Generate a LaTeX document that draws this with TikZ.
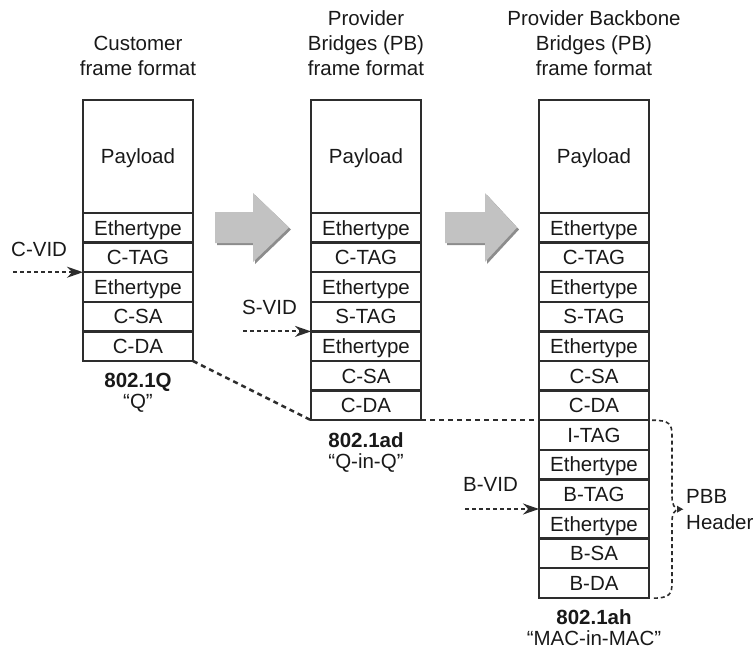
\documentclass[tikz,border=0pt]{standalone}
\usepackage{fontspec}
\setmainfont{Liberation Sans}
\usepackage{tikz}
\usetikzlibrary{arrows.meta, positioning}
\definecolor{myframe}{RGB}{45,45,45}
\definecolor{mytext}{RGB}{25,25,25}
\definecolor{mygray}{RGB}{194,194,194}
\definecolor{myshadow}{RGB}{140,140,140}
\tikzset{
  field/.style={rectangle, draw=myframe, line width=2.5pt,
    minimum width=110pt, minimum height=29.6pt, inner sep=0pt, outer sep=0pt,
    text height=14.7pt, text depth=0pt, text=mytext,
    font=\fontsize{20.5}{24}\selectfont},
  payload/.style={field, minimum height=113pt},
  title/.style={align=center, inner sep=0pt, text=mytext,
    font=\fontsize{20.5}{25}\selectfont},
  stdlabel/.style={align=center, inner sep=0pt, text=mytext,
    font=\fontsize{20.5}{21}\selectfont},
  vid/.style={inner sep=0pt, text=mytext, font=\fontsize{20.5}{26}\selectfont},
  vidarrow/.style={-{Stealth[length=16pt, width=11pt]}, line width=2pt,
    dash pattern=on 4pt off 3pt, color=myframe},
  link/.style={line width=2.5pt, dash pattern=on 5pt off 4pt, color=myframe},
  pbbbrace/.style={line width=1.6pt, dash pattern=on 4pt off 3pt, color=myframe}
}

\begin{document}
\begin{tikzpicture}[x=1pt, y=-1pt]
  \useasboundingbox (0,0) rectangle (753,649);
  % Customer frame (802.1Q)
  \node[payload, anchor=north] (q-pay) at (138,100) {Payload};
  \node[field, below=0pt of q-pay] (q-et1) {Ethertype};
  \node[field, below=0pt of q-et1] (q-ctag) {C-TAG};
  \node[field, below=0pt of q-ctag] (q-et2) {Ethertype};
  \node[field, below=0pt of q-et2] (q-csa) {C-SA};
  \node[field, below=0pt of q-csa] (q-cda) {C-DA};
  \node[title, above=24pt of q-pay] (q-title) {Customer\\frame format};
  \node[stdlabel, below=12pt of q-cda] (q-std) {\textbf{802.1Q}\\“Q”};
  % Provider Bridges frame (802.1ad)
  \node[payload, anchor=north] (pb-pay) at (366,100) {Payload};
  \node[field, below=0pt of pb-pay] (pb-et1) {Ethertype};
  \node[field, below=0pt of pb-et1] (pb-ctag) {C-TAG};
  \node[field, below=0pt of pb-ctag] (pb-et2) {Ethertype};
  \node[field, below=0pt of pb-et2] (pb-stag) {S-TAG};
  \node[field, below=0pt of pb-stag] (pb-et3) {Ethertype};
  \node[field, below=0pt of pb-et3] (pb-csa) {C-SA};
  \node[field, below=0pt of pb-csa] (pb-cda) {C-DA};
  \node[title, above=24pt of pb-pay] (pb-title) {Provider\\Bridges (PB)\\frame format};
  \node[stdlabel, below=12pt of pb-cda] (pb-std) {\textbf{802.1ad}\\“Q-in-Q”};
  % Provider Backbone Bridges frame (802.1ah)
  \node[payload, anchor=north] (pbb-pay) at (594,100) {Payload};
  \node[field, below=0pt of pbb-pay] (pbb-et1) {Ethertype};
  \node[field, below=0pt of pbb-et1] (pbb-ctag) {C-TAG};
  \node[field, below=0pt of pbb-ctag] (pbb-et2) {Ethertype};
  \node[field, below=0pt of pbb-et2] (pbb-stag) {S-TAG};
  \node[field, below=0pt of pbb-stag] (pbb-et3) {Ethertype};
  \node[field, below=0pt of pbb-et3] (pbb-csa) {C-SA};
  \node[field, below=0pt of pbb-csa] (pbb-cda) {C-DA};
  \node[field, below=0pt of pbb-cda] (pbb-itag) {I-TAG};
  \node[field, below=0pt of pbb-itag] (pbb-et4) {Ethertype};
  \node[field, below=0pt of pbb-et4] (pbb-btag) {B-TAG};
  \node[field, below=0pt of pbb-btag] (pbb-et5) {Ethertype};
  \node[field, below=0pt of pbb-et5] (pbb-bsa) {B-SA};
  \node[field, below=0pt of pbb-bsa] (pbb-bda) {B-DA};
  \node[title, above=24pt of pbb-pay] (pbb-title) {Provider Backbone\\Bridges (PB)\\frame format};
  \node[stdlabel, below=12pt of pbb-bda] (pbb-std) {\textbf{802.1ah}\\“MAC-in-MAC”};
  % Gray block arrows
  \fill[myshadow] (217,214) -- (255,214) -- (255,195) -- (291,229.5) -- (255,264)
    -- (255,245) -- (217,245) -- cycle;
  \fill[mygray] (215,212) -- (253,212) -- (253,193) -- (289,227.5) -- (253,262)
    -- (253,243) -- (215,243) -- cycle;
  \fill[myshadow] (447,214) -- (487,214) -- (487,195) -- (519,229.5) -- (487,264)
    -- (487,245) -- (447,245) -- cycle;
  \fill[mygray] (445,212) -- (485,212) -- (485,193) -- (517,227.5) -- (485,262)
    -- (485,243) -- (445,243) -- cycle;
  % VID arrows
  \node[vid, anchor=west] (cvid) at (11,249) {C-VID};
  \coordinate (cvid-start) at (13,0);
  \draw[vidarrow] (cvid-start |- q-ctag.south west) -- (q-ctag.south west);
  \node[vid, anchor=west] (svid) at (242,307) {S-VID};
  \coordinate (svid-start) at (243,0);
  \draw[vidarrow] (svid-start |- pb-stag.south west) -- (pb-stag.south west);
  \node[vid, anchor=west] (bvid) at (463,484) {B-VID};
  \coordinate (bvid-start) at (465,0);
  \draw[vidarrow] (bvid-start |- pbb-btag.south west) -- (pbb-btag.south west);
  % Dashed links between frames
  \draw[link] (q-cda.south east) -- (pb-cda.south west);
  \draw[link] (pb-cda.south east) -- (pbb-cda.south west);
  % PBB header brace
  \draw[pbbbrace] ([xshift=3pt]pbb-itag.north east)
    .. controls +(18,0) and +(0,-12) .. ++(20,16) -- ++(0,60)
    .. controls +(0,8) and +(-6,0) .. ++(8,13) coordinate (btip)
    .. controls +(-6,0) and +(0,-8) .. ++(-8,13) -- ++(0,60)
    .. controls +(0,12) and +(18,0) .. ++(-20,16);
  \fill[myframe] ([xshift=3pt]btip) -- ++(-6,-3.5) -- ++(0,7) -- cycle;
  \node[vid, align=left, anchor=west] (pbb-hdr) at (686,510) {PBB\\Header};
\end{tikzpicture}
\end{document}
